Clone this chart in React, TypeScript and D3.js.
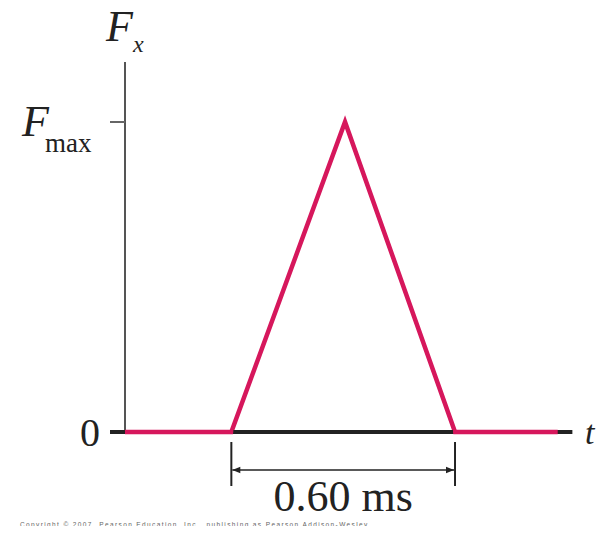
import { useEffect, useRef } from 'react'
import * as d3 from 'd3'

// force pulse, time in ms, force in units of Fmax
const pulseT = [0, 0.29, 0.6, 0.9, 1.18]
const pulseF = [0, 0, 1, 0, 0]
const axisEndT = 1.22
const pulseStart = 0.29
const pulseEnd = 0.9
const widthLabel = '0.60 ms'
const copyright = 'Copyright © 2007, Pearson Education, Inc., publishing as Pearson Addison-Wesley.'

const RED = '#d6175c'

export default function App() {
  const svgRef = useRef<SVGSVGElement>(null)

  useEffect(() => {
    if (!svgRef.current) return
    const svg = d3.select(svgRef.current)
    svg.selectAll('*').remove()

    const x = d3.scaleLinear().domain([0, 1]).range([125, 491.7])
    const y = d3.scaleLinear().domain([0, 1]).range([432, 122])
    const serif = '"Liberation Serif", "DejaVu Serif", serif'

    const defs = svg.append('defs')
    defs.append('marker').attr('id', 'arr').attr('viewBox', '0 0 10 10')
      .attr('refX', 10).attr('refY', 5).attr('markerWidth', 10).attr('markerHeight', 8)
      .attr('markerUnits', 'userSpaceOnUse').attr('orient', 'auto-start-reverse')
      .append('path').attr('d', 'M0,1 L10,5 L0,9 Z').attr('fill', '#222')

    // y axis
    svg.append('line').attr('x1', x(0)).attr('x2', x(0)).attr('y1', 62).attr('y2', y(0))
      .attr('stroke', '#555').attr('stroke-width', 2)
    // Fmax tick
    svg.append('line').attr('x1', x(0) - 15).attr('x2', x(0)).attr('y1', y(1)).attr('y2', y(1))
      .attr('stroke', '#666').attr('stroke-width', 2)

    // x axis
    svg.append('line').attr('x1', x(0) - 15).attr('x2', x(axisEndT)).attr('y1', y(0)).attr('y2', y(0))
      .attr('stroke', '#222').attr('stroke-width', 4)

    // pulse
    const line = d3.line<number>().x((_, i) => x(pulseT[i])).y(d => y(d))
    svg.append('path').attr('d', line(pulseF)).attr('fill', 'none')
      .attr('stroke', RED).attr('stroke-width', 4.5).attr('stroke-linejoin', 'miter')
    // black segment under pulse
    svg.append('line').attr('x1', x(pulseStart) + 2).attr('x2', x(pulseEnd) - 2).attr('y1', y(0)).attr('y2', y(0))
      .attr('stroke', '#222').attr('stroke-width', 4)

    // dimension
    const dy = 470
    ;[pulseStart, pulseEnd].forEach(t => {
      svg.append('line').attr('x1', x(t)).attr('x2', x(t)).attr('y1', 442).attr('y2', 486)
        .attr('stroke', '#222').attr('stroke-width', 2)
    })
    svg.append('line').attr('x1', x(pulseStart) + 1).attr('x2', x(pulseEnd) - 1).attr('y1', dy).attr('y2', dy)
      .attr('stroke', '#222').attr('stroke-width', 1.5)
      .attr('marker-start', 'url(#arr)').attr('marker-end', 'url(#arr)')
    svg.append('text').attr('x', x((pulseStart + pulseEnd) / 2)).attr('y', 511)
      .attr('text-anchor', 'middle').attr('font-family', serif).attr('font-size', 44)
      .attr('fill', '#222').text(widthLabel)

    // labels
    svg.append('text').attr('x', 100).attr('y', 446).attr('text-anchor', 'end')
      .attr('font-family', serif).attr('font-size', 40).attr('fill', '#222').text('0')
    svg.append('text').attr('x', 585).attr('y', 444)
      .attr('font-family', serif).attr('font-style', 'italic').attr('font-size', 34).attr('fill', '#222').text('t')

    const fx = svg.append('text').attr('x', 106).attr('y', 41)
      .attr('font-family', serif).attr('font-style', 'italic').attr('fill', '#222')
    fx.append('tspan').attr('font-size', 44).text('F')
    fx.append('tspan').attr('font-size', 24).attr('dy', 11).text('x')

    const fm = svg.append('text').attr('x', 22).attr('y', 136)
      .attr('font-family', serif).attr('fill', '#222')
    fm.append('tspan').attr('font-size', 44).attr('font-style', 'italic').text('F')
    fm.append('tspan').attr('font-size', 27).attr('dy', 16).attr('dx', -4).text('max')

    svg.append('text').attr('x', 20).attr('y', 527)
      .attr('font-family', '"Liberation Sans", sans-serif').attr('font-size', 6.5).attr('fill', '#666')
      .attr('textLength', 350).text(copyright)
  }, [])

  return (
    <div style={{ margin: -8 }}>
      <svg ref={svgRef} width={609} height={534} style={{ display: 'block', background: '#fff' }} />
    </div>
  )
}
